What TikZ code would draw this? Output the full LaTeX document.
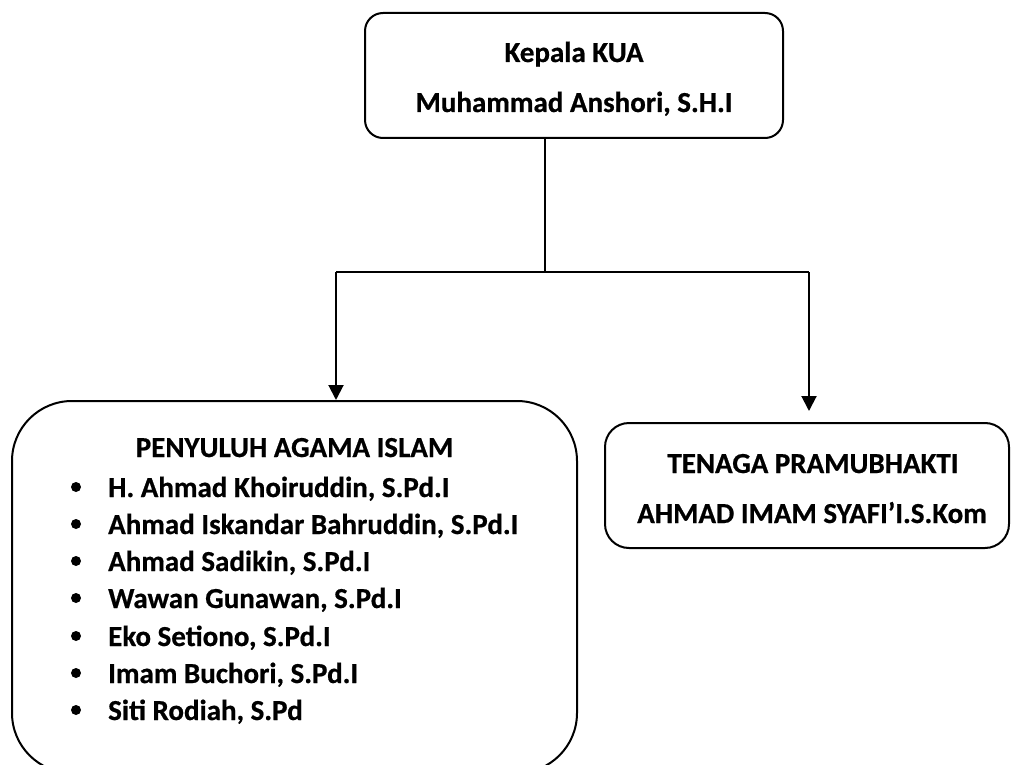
\documentclass[tikz,border=0pt]{standalone}
\usepackage{fontspec}
\setmainfont{Carlito}[BoldFeatures={FakeBold=0.6}]
\usetikzlibrary{arrows.meta}
\begin{document}
\begin{tikzpicture}[x=1pt,y=-1pt,
  box/.style={draw=black, line width=2pt, fill=none, inner sep=0pt},
  conn/.style={draw=black, line width=2pt},
  arr/.style={conn, -{Triangle[width=15pt,length=15pt]}},
  lbl/.style={font=\fontsize{29}{35}\selectfont\bfseries, inner sep=0pt, anchor=base},
  item/.style={font=\fontsize{29}{35}\selectfont\bfseries, inner sep=0pt, anchor=base west},
  dot/.style={circle, fill=black, inner sep=0pt, minimum size=10pt}
]
\useasboundingbox (0,0) rectangle (1012,765);
\clip (0,0) rectangle (1012,765);
\fill[white] (0,0) rectangle (1012,765);

% boxes
\node[box, rounded corners=18pt, minimum width=418, minimum height=125] (kua) at (574,75.5) {};
\node[box, rounded corners=60pt, minimum width=565, minimum height=372] (pai) at (294.5,587) {};
\node[box, rounded corners=24pt, minimum width=404, minimum height=125] (pb) at (807,485.5) {};

% texts
\node[lbl] (t1) at (574,62) {Kepala KUA};
\node[lbl] (t2) at (574,112) {Muhammad Anshori, S.H.I};

\node[lbl] (p0) at (294.5,457) {PENYULUH AGAMA ISLAM};
\foreach \y/\name/\txt in {497/p1/{H. Ahmad Khoiruddin, S.Pd.I},
                     534/p2/{Ahmad Iskandar Bahruddin, S.Pd.I},
                     571/p3/{Ahmad Sadikin, S.Pd.I},
                     608/p4/{Wawan Gunawan, S.Pd.I},
                     646/p5/{Eko Setiono, S.Pd.I},
                     683/p6/{Imam Buchori, S.Pd.I},
                     720/p7/{Siti Rodiah, S.Pd}}{
  \node[item] (\name) at (108,\y) {\txt};
  \node[dot] (\name b) at (76,\y-10) {};
}

\node[lbl] (r1) at (813,473) {TENAGA PRAMUBHAKTI};
\node[lbl] (r2) at (812,523) {AHMAD IMAM SYAFI’I.S.Kom};

% connectors
\coordinate (j) at (545,272);
\coordinate (jl) at (336,272);
\coordinate (jr) at (809,272);
\draw[conn] (j |- kua.south) -- (j);
\draw[conn] (jl) -- (jr);
\draw[arr] (jl) -- (jl |- pai.north);
\draw[arr, shorten >=11pt] (jr) -- (jr |- pb.north);
\end{tikzpicture}
\end{document}
